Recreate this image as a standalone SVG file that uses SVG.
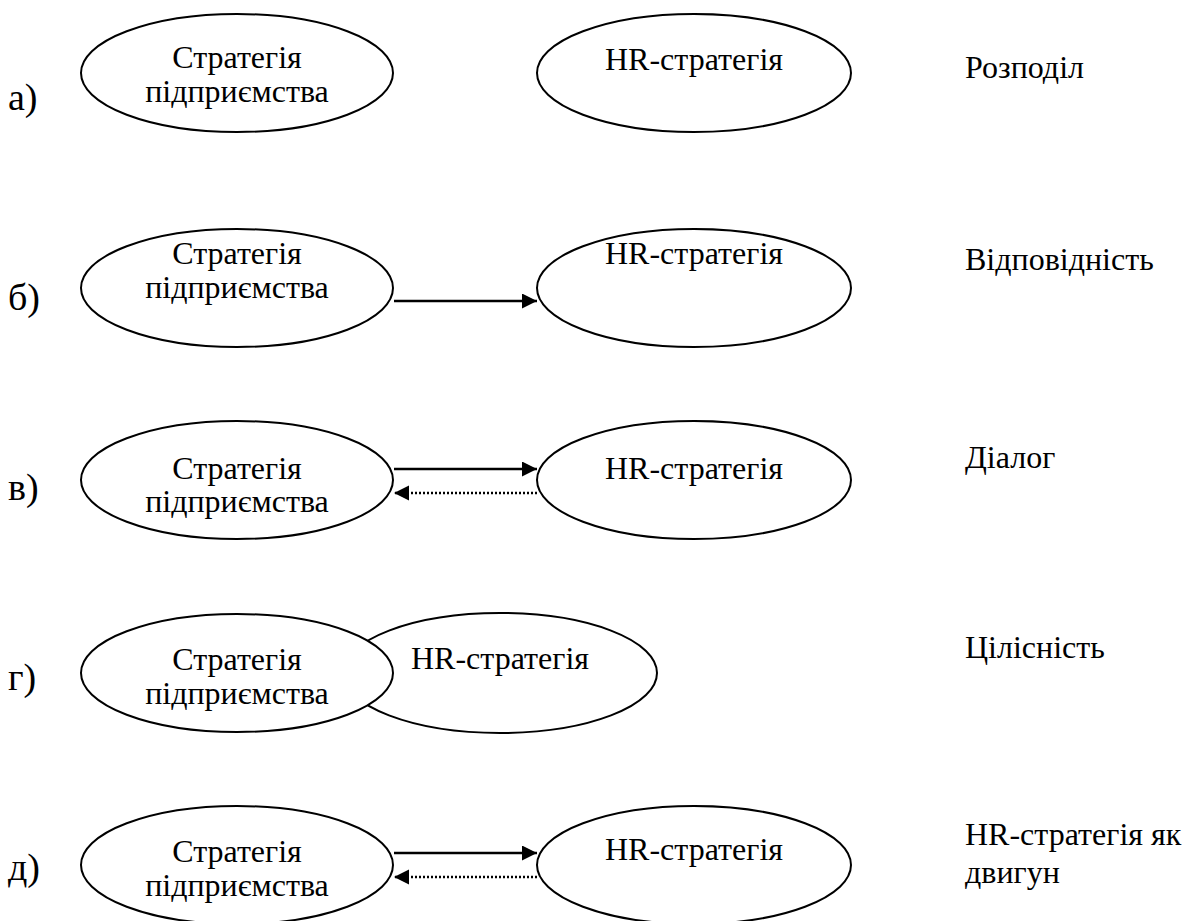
<svg xmlns="http://www.w3.org/2000/svg" width="1186" height="921" viewBox="0 0 1186 921">
<style>
.e{fill:#fff;stroke:#000;stroke-width:2}
.t{font-family:"Liberation Serif","Times New Roman","DejaVu Serif",serif;font-size:32px;fill:#000}
.l{font-size:38px}
.m{text-anchor:middle}
.s{stroke:#000;stroke-width:2.5;fill:none}
.d{stroke:#000;stroke-width:2.5;fill:none;stroke-dasharray:2 2}
</style>
<defs>
<marker id="ah" markerUnits="userSpaceOnUse" markerWidth="16" markerHeight="16" refX="15" refY="7.5" orient="auto">
<path d="M0,0 L15,7.5 L0,15 z" fill="#000"/>
</marker>
</defs>
<rect width="1186" height="921" fill="#fff"/>
<g id="labels">
<text class="t l" x="8" y="110">а)</text>
<text class="t l" x="8" y="310">б)</text>
<text class="t l" x="8" y="500">в)</text>
<text class="t l" x="8" y="690">г)</text>
<text class="t l" x="8" y="880">д)</text>
<text class="t" x="965" y="78">Розподіл</text>
<text class="t" x="965" y="270">Відповідність</text>
<text class="t" x="965" y="468">Діалог</text>
<text class="t" x="965" y="658">Цілісність</text>
<text class="t" x="965" y="845">HR-стратегія як</text>
<text class="t" x="965" y="883">двигун</text>
</g>
<g id="a-left"><ellipse class="e" cx="237" cy="73" rx="156" ry="59"/><text class="t m" x="237" y="68">Стратегія</text><text class="t m" x="237" y="102">підприємства</text></g>
<g id="a-right"><ellipse class="e" cx="694" cy="73" rx="157" ry="59"/><text class="t m" x="694" y="70">HR-стратегія</text></g>
<g id="b-left"><ellipse class="e" cx="237" cy="288" rx="156" ry="59"/><text class="t m" x="237" y="264">Стратегія</text><text class="t m" x="237" y="298">підприємства</text></g>
<g id="b-right"><ellipse class="e" cx="694" cy="288" rx="157" ry="59"/><text class="t m" x="694" y="264">HR-стратегія</text></g>
<g id="c-left"><ellipse class="e" cx="237" cy="480" rx="156" ry="59"/><text class="t m" x="237" y="479">Стратегія</text><text class="t m" x="237" y="512">підприємства</text></g>
<g id="c-right"><ellipse class="e" cx="694" cy="480" rx="157" ry="59"/><text class="t m" x="694" y="479">HR-стратегія</text></g>
<g id="g-right"><ellipse class="e" cx="500" cy="673" rx="157" ry="60"/><text class="t m" x="500" y="669">HR-стратегія</text></g>
<g id="g-left"><ellipse class="e" cx="237" cy="673" rx="156" ry="59"/><text class="t m" x="237" y="670">Стратегія</text><text class="t m" x="237" y="704">підприємства</text></g>
<g id="d-left"><ellipse class="e" cx="237" cy="865" rx="156" ry="59"/><text class="t m" x="237" y="862">Стратегія</text><text class="t m" x="237" y="896">підприємства</text></g>
<g id="d-right"><ellipse class="e" cx="694" cy="865" rx="157" ry="59"/><text class="t m" x="694" y="860">HR-стратегія</text></g>
<g id="connectors">
<line class="s" x1="394" y1="301" x2="537" y2="301" marker-end="url(#ah)"/>
<line class="s" x1="394" y1="469" x2="537" y2="469" marker-end="url(#ah)"/>
<line class="d" x1="537" y1="493" x2="394" y2="493" marker-end="url(#ah)"/>
<line class="s" x1="394" y1="853" x2="537" y2="853" marker-end="url(#ah)"/>
<line class="d" x1="537" y1="877" x2="394" y2="877" marker-end="url(#ah)"/>
</g>
</svg>
